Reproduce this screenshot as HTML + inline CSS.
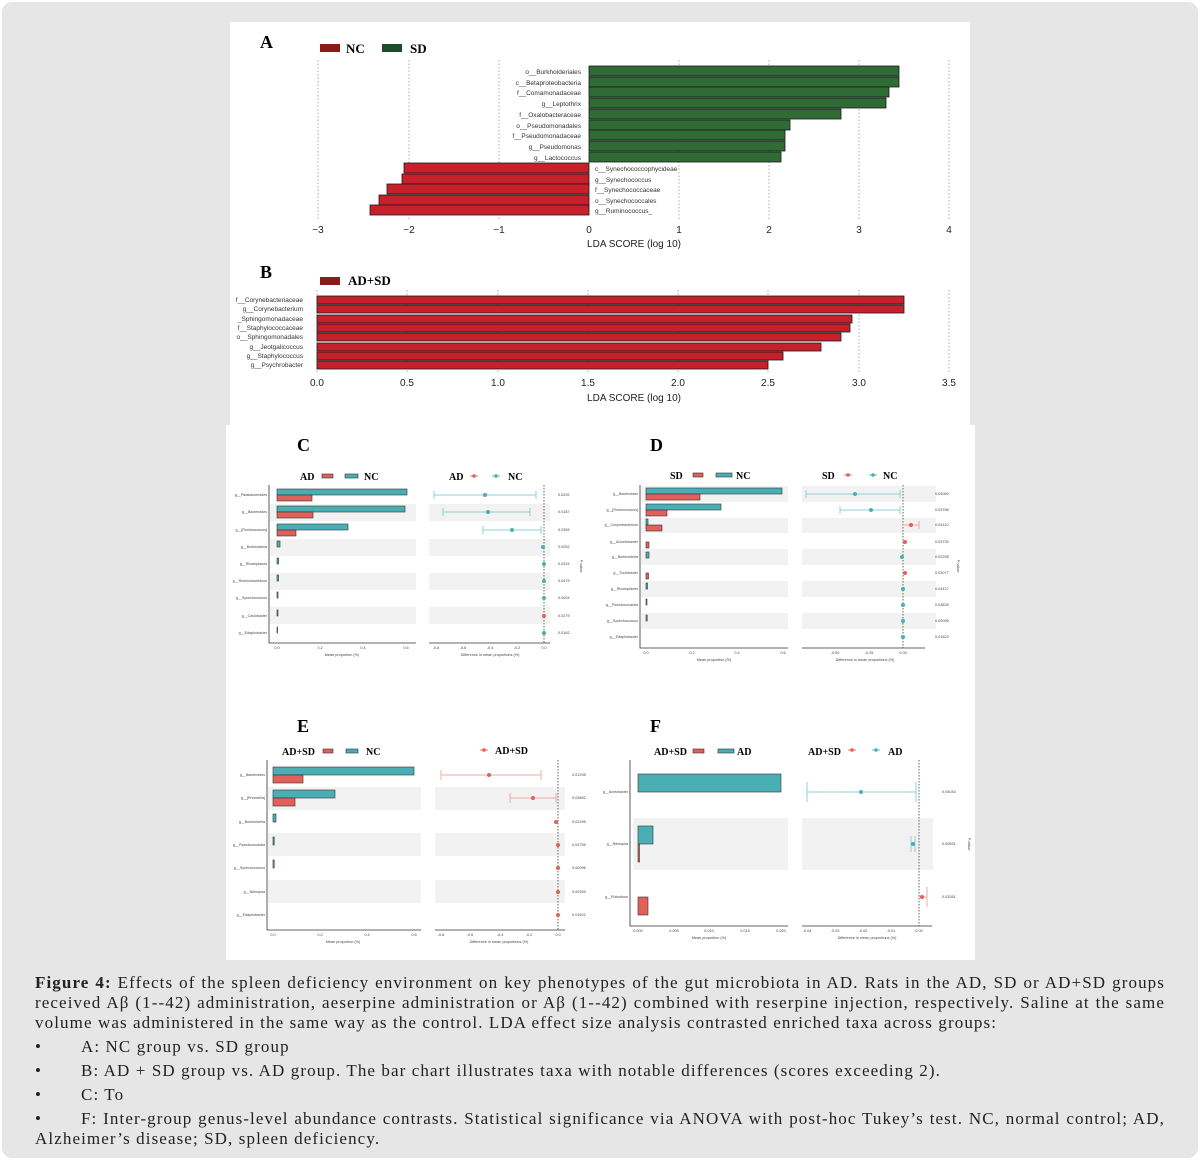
<!DOCTYPE html>
<html><head><meta charset="utf-8"><style>
body{margin:0;width:1200px;height:1160px;background:#fff;overflow:hidden}
.wrap{position:absolute;left:2px;top:2px;width:1196px;height:1156px;background:#e6e6e6;border-radius:10px}
svg{position:absolute;left:0;top:0}
.cap{position:absolute;left:35px;top:973px;width:1130px;font-family:"Liberation Serif",serif;font-size:17px;letter-spacing:1.1px;line-height:20px;color:#222}
.cap div{white-space:nowrap}
.j{text-align:justify;text-align-last:justify}
.li{margin-top:4px}
.li span{display:inline-block;width:46px}
</style></head><body>
<div class="wrap"></div>
<svg width="1200" height="1160" font-family="Liberation Sans, sans-serif">
<rect x="230" y="22" width="740" height="403" fill="#fff"/>
<rect x="226" y="425" width="749" height="535" fill="#fff"/>
<text x="260" y="48" font-family="Liberation Serif,serif" font-weight="bold" font-size="18">A</text>
<rect x="320" y="44" width="20" height="8" fill="#8b1a1a"/><text x="346" y="53" font-family="Liberation Serif,serif" font-weight="bold" font-size="13">NC</text>
<rect x="382" y="44" width="20" height="8" fill="#1e4d2b"/><text x="410" y="53" font-family="Liberation Serif,serif" font-weight="bold" font-size="13">SD</text>
<g stroke="#999" stroke-dasharray="1.5,2" stroke-width="0.8">
<line x1="318" y1="60" x2="318" y2="220"/><line x1="409" y1="60" x2="409" y2="220"/><line x1="499" y1="60" x2="499" y2="220"/><line x1="679" y1="60" x2="679" y2="220"/><line x1="769" y1="60" x2="769" y2="220"/><line x1="859" y1="60" x2="859" y2="220"/><line x1="949" y1="60" x2="949" y2="220"/></g>
<g fill="#2e6b35" stroke="#1a1a1a" stroke-width="0.8">
<rect x="589" y="66" width="310" height="10"/><rect x="589" y="77" width="310" height="10"/><rect x="589" y="87" width="300" height="10"/><rect x="589" y="98" width="297" height="10"/><rect x="589" y="109" width="252" height="10"/><rect x="589" y="120" width="201" height="10"/><rect x="589" y="130" width="196" height="10"/><rect x="589" y="141" width="196" height="10"/><rect x="589" y="152" width="192" height="10"/></g>
<g fill="#c8202a" stroke="#1a1a1a" stroke-width="0.8">
<rect x="404" y="163" width="185" height="10"/><rect x="402" y="174" width="187" height="10"/><rect x="387" y="184" width="202" height="10"/><rect x="379" y="195" width="210" height="10"/><rect x="370" y="205" width="219" height="10"/></g>
<g font-size="6.5" fill="#333" text-anchor="end">
<text x="581" y="74">o__Burkholderiales</text><text x="581" y="85">c__Betaproteobacteria</text><text x="581" y="95">f__Comamonadaceae</text><text x="581" y="106">g__Leptothrix</text><text x="581" y="117">f__Oxalobacteraceae</text><text x="581" y="128">o__Pseudomonadales</text><text x="581" y="138">f__Pseudomonadaceae</text><text x="581" y="149">g__Pseudomonas</text><text x="581" y="160">g__Lactococcus</text></g>
<g font-size="6.5" fill="#333">
<text x="595" y="171">c__Synechococcophycideae</text><text x="595" y="182">g__Synechococcus</text><text x="595" y="192">f__Synechococcaceae</text><text x="595" y="203">o__Synechococcales</text><text x="595" y="213">g__Ruminococcus_</text></g>
<g font-size="10" fill="#222" text-anchor="middle">
<text x="318" y="233">−3</text><text x="409" y="233">−2</text><text x="499" y="233">−1</text><text x="589" y="233">0</text><text x="679" y="233">1</text><text x="769" y="233">2</text><text x="859" y="233">3</text><text x="949" y="233">4</text>
<text x="634" y="247">LDA SCORE (log 10)</text></g>
<text x="260" y="278" font-family="Liberation Serif,serif" font-weight="bold" font-size="18">B</text>
<rect x="320" y="277" width="20" height="8" fill="#8b1a1a"/><text x="348" y="285" font-family="Liberation Serif,serif" font-weight="bold" font-size="13">AD+SD</text>
<g stroke="#999" stroke-dasharray="1.5,2" stroke-width="0.8">
<line x1="317" y1="290" x2="317" y2="372"/><line x1="407" y1="290" x2="407" y2="372"/><line x1="498" y1="290" x2="498" y2="372"/><line x1="588" y1="290" x2="588" y2="372"/><line x1="678" y1="290" x2="678" y2="372"/><line x1="768" y1="290" x2="768" y2="372"/><line x1="859" y1="290" x2="859" y2="372"/><line x1="949" y1="290" x2="949" y2="372"/></g>
<g fill="#c8202a" stroke="#1a1a1a" stroke-width="0.8">
<rect x="317" y="296" width="587" height="8"/><rect x="317" y="305" width="587" height="8"/><rect x="317" y="315" width="535" height="8"/><rect x="317" y="324" width="533" height="8"/><rect x="317" y="333" width="524" height="8"/><rect x="317" y="343" width="504" height="8"/><rect x="317" y="352" width="466" height="8"/><rect x="317" y="361" width="451" height="8"/></g>
<g font-size="6.5" fill="#333" text-anchor="end">
<text x="303" y="302">f__Corynebacteriaceae</text><text x="303" y="311">g__Corynebacterium</text><text x="303" y="321">_Sphingomonadaceae</text><text x="303" y="330">f__Staphylococcaceae</text><text x="303" y="339">o__Sphingomonadales</text><text x="303" y="349">g__Jeotgalicoccus</text><text x="303" y="358">g__Staphylococcus</text><text x="303" y="367">g__Psychrobacter</text></g>
<g font-size="10" fill="#222" text-anchor="middle">
<text x="317" y="386">0.0</text><text x="407" y="386">0.5</text><text x="498" y="386">1.0</text><text x="588" y="386">1.5</text><text x="678" y="386">2.0</text><text x="768" y="386">2.5</text><text x="859" y="386">3.0</text><text x="949" y="386">3.5</text>
<text x="634" y="401">LDA SCORE (log 10)</text></g>

<g font-family="Liberation Serif,serif" font-weight="bold">
<text x="297" y="451" font-size="18">C</text><text x="650" y="451" font-size="18">D</text><text x="297" y="732" font-size="18">E</text><text x="650" y="732" font-size="18">F</text>
<text x="300" y="480" font-size="10">AD</text><text x="364" y="480" font-size="10">NC</text><text x="449" y="480" font-size="10">AD</text><text x="508" y="480" font-size="10">NC</text>
<text x="670" y="479" font-size="10">SD</text><text x="736" y="479" font-size="10">NC</text><text x="822" y="479" font-size="10">SD</text><text x="883" y="479" font-size="10">NC</text>
<text x="282" y="755" font-size="10">AD+SD</text><text x="366" y="755" font-size="10">NC</text><text x="495" y="754" font-size="10">AD+SD</text>
<text x="654" y="755" font-size="10">AD+SD</text><text x="737" y="755" font-size="10">AD</text><text x="808" y="755" font-size="10">AD+SD</text><text x="888" y="755" font-size="10">AD</text></g>
<g stroke="#333" stroke-width="0.6">
<rect x="322" y="474" width="11" height="4" fill="#e0605a"/><rect x="345" y="474" width="13" height="4" fill="#4aafb5"/>
<rect x="693" y="473" width="10" height="4" fill="#e0605a"/><rect x="716" y="473" width="16" height="4" fill="#4aafb5"/>
<rect x="323" y="749" width="10" height="4" fill="#e0605a"/><rect x="346" y="749" width="12" height="4" fill="#4aafb5"/>
<rect x="693" y="749" width="11" height="4" fill="#e0605a"/><rect x="718" y="749" width="16" height="4" fill="#4aafb5"/></g>
<g stroke-width="0.8">
<line x1="470" y1="476" x2="478" y2="476" stroke="#e0605a"/><circle cx="474" cy="476" r="1.8" fill="#e0605a"/>
<line x1="492" y1="476" x2="500" y2="476" stroke="#4aafb5"/><circle cx="496" cy="476" r="1.8" fill="#4aafb5"/>
<line x1="844" y1="475" x2="852" y2="475" stroke="#e0605a"/><circle cx="848" cy="475" r="1.8" fill="#e0605a"/>
<line x1="869" y1="475" x2="877" y2="475" stroke="#4aafb5"/><circle cx="873" cy="475" r="1.8" fill="#4aafb5"/>
<line x1="480" y1="750" x2="488" y2="750" stroke="#e0605a"/><circle cx="484" cy="750" r="1.8" fill="#e0605a"/>
<line x1="848" y1="750" x2="856" y2="750" stroke="#e0605a"/><circle cx="852" cy="750" r="1.8" fill="#e0605a"/>
<line x1="872" y1="750" x2="880" y2="750" stroke="#4aafb5"/><circle cx="876" cy="750" r="1.8" fill="#4aafb5"/></g>

<g fill="#f2f2f2">
<rect x="270" y="504" width="146" height="17"/><rect x="270" y="539" width="146" height="17"/><rect x="270" y="573" width="146" height="17"/><rect x="270" y="607" width="146" height="17"/>
<rect x="429" y="504" width="121" height="17"/><rect x="429" y="539" width="121" height="17"/><rect x="429" y="573" width="121" height="17"/><rect x="429" y="607" width="121" height="17"/>
<rect x="641" y="486" width="147" height="16"/><rect x="641" y="518" width="147" height="15"/><rect x="641" y="549" width="147" height="16"/><rect x="641" y="581" width="147" height="16"/><rect x="641" y="613" width="147" height="16"/>
<rect x="802" y="486" width="134" height="16"/><rect x="802" y="518" width="134" height="15"/><rect x="802" y="549" width="134" height="16"/><rect x="802" y="581" width="134" height="16"/><rect x="802" y="613" width="134" height="16"/>
<rect x="268" y="787" width="153" height="23"/><rect x="268" y="833" width="153" height="23"/><rect x="268" y="880" width="153" height="23"/>
<rect x="435" y="787" width="130" height="23"/><rect x="435" y="833" width="130" height="23"/><rect x="435" y="880" width="130" height="23"/>
<rect x="633" y="818" width="155" height="52"/><rect x="802" y="818" width="131" height="52"/></g>

<g stroke="#333" stroke-width="0.8" fill="none">
<path d="M269 485V643H416"/><path d="M429 643H550"/>
<path d="M640 485V648H788"/><path d="M802 648H925"/>
<path d="M267 760V930H421"/><path d="M435 930H565"/>
<path d="M630 760V926H788"/><path d="M802 926H932"/></g>
<g stroke="#555" stroke-width="0.9" stroke-dasharray="1.5,1.5">
<line x1="544" y1="485" x2="544" y2="643"/><line x1="903" y1="485" x2="903" y2="648"/><line x1="558" y1="760" x2="558" y2="930"/><line x1="919" y1="760" x2="919" y2="926"/></g>

<g stroke="#333" stroke-width="0.6">
<g fill="#4aafb5"><rect x="277" y="489" width="130" height="6"/><rect x="277" y="506" width="128" height="6"/><rect x="277" y="524" width="71" height="6"/><rect x="277" y="541" width="3" height="6"/><rect x="277" y="558" width="1.5" height="6"/><rect x="277" y="575" width="1.5" height="6"/><rect x="277" y="592" width="1" height="6"/><rect x="277" y="610" width="1" height="6"/><rect x="277" y="627" width="0.5" height="6"/></g>
<g fill="#e0605a"><rect x="277" y="495" width="35" height="6"/><rect x="277" y="512" width="36" height="6"/><rect x="277" y="530" width="19" height="6"/></g>
<g fill="#4aafb5"><rect x="646" y="488" width="136" height="6"/><rect x="646" y="504" width="75" height="6"/><rect x="646" y="519" width="2" height="6"/><rect x="646" y="552" width="3" height="6"/><rect x="646" y="583" width="1.5" height="6"/><rect x="646" y="599" width="1" height="6"/><rect x="646" y="615" width="1.2" height="6"/></g>
<g fill="#e0605a"><rect x="646" y="494" width="54" height="6"/><rect x="646" y="510" width="21" height="6"/><rect x="646" y="525" width="16" height="6"/><rect x="646" y="542" width="3" height="6"/><rect x="646" y="573" width="2.5" height="6"/></g>
<g fill="#4aafb5"><rect x="273" y="767" width="141" height="8"/><rect x="273" y="790" width="62" height="8"/><rect x="273" y="814" width="3" height="8"/><rect x="273" y="837" width="1.2" height="8"/><rect x="273" y="860" width="1.2" height="8"/></g>
<g fill="#e0605a"><rect x="273" y="775" width="30" height="8"/><rect x="273" y="798" width="22" height="8"/></g>
<g fill="#4aafb5"><rect x="638" y="774" width="143" height="18"/><rect x="638" y="826" width="15" height="18"/></g>
<g fill="#e0605a"><rect x="638" y="844" width="1.5" height="18"/><rect x="638" y="897" width="10" height="18"/></g></g>

<g stroke="#8fd0d4" stroke-width="1">
<path d="M434 495H536M434 491V499M536 491V499"/><path d="M443 512H530M443 508V516M530 508V516"/><path d="M483 530H541M483 526V534M541 526V534"/>
<path d="M806 494H900M806 490V498M900 490V498"/><path d="M840 510H900M840 506V514M900 506V514"/>
<path d="M807 792H916M807 782V802M916 782V802"/><path d="M911 836V852M915 836V852"/></g>
<g stroke="#f0a8a4" stroke-width="1">
<path d="M441 775H541M441 770V780M541 770V780"/><path d="M510 798H556M510 793V803M556 793V803"/>
<path d="M903 525H919M919 521V529"/><path d="M919 897H927M927 887V907"/></g>
<g fill="#4aafb5">
<circle cx="485" cy="495" r="2"/><circle cx="488" cy="512" r="2"/><circle cx="512" cy="530" r="2"/><circle cx="543" cy="547" r="2"/><circle cx="544" cy="564" r="2"/><circle cx="544" cy="581" r="2"/><circle cx="544" cy="598" r="2"/><circle cx="544" cy="633" r="2"/>
<circle cx="855" cy="494" r="2"/><circle cx="871" cy="510" r="2"/><circle cx="902" cy="557" r="2"/><circle cx="903" cy="589" r="2"/><circle cx="903" cy="605" r="2"/><circle cx="903" cy="621" r="2"/><circle cx="903" cy="637" r="2"/>
<circle cx="861" cy="792" r="2"/><circle cx="913" cy="844" r="2"/></g>
<g fill="#e0605a">
<circle cx="544" cy="616" r="2"/><circle cx="911" cy="525" r="2"/><circle cx="905" cy="542" r="2"/><circle cx="905" cy="573" r="2"/>
<circle cx="489" cy="775" r="2"/><circle cx="533" cy="798" r="2"/><circle cx="556" cy="822" r="2"/><circle cx="558" cy="845" r="2"/><circle cx="558" cy="868" r="2"/><circle cx="558" cy="892" r="2"/><circle cx="558" cy="915" r="2"/>
<circle cx="922" cy="897" r="2"/></g>

<g font-size="3.6" fill="#444" text-anchor="end">
<text x="267" y="496">g__Parabacteroides</text><text x="267" y="513">g__Bacteroides</text><text x="267" y="531">g__[Ruminococcus]</text><text x="267" y="548">g__Burkholderia</text><text x="267" y="565">g__Rhodoplanes</text><text x="267" y="582">g__Ruminiclostridium</text><text x="267" y="599">g__Synechococcus</text><text x="267" y="617">g__Caulobacter</text><text x="267" y="634">g__Edaphobacter</text>
<text x="638" y="495">g__Bacteroides</text><text x="638" y="511">g__[Ruminococcus]</text><text x="638" y="526">g__Corynebacterium</text><text x="638" y="543">g__Acinetobacter</text><text x="638" y="558">g__Burkholderia</text><text x="638" y="574">g__Turicibacter</text><text x="638" y="590">g__Rhodoplanes</text><text x="638" y="606">g__Pseudonocardia</text><text x="638" y="622">g__Synechococcus</text><text x="638" y="638">g__Edaphobacter</text>
<text x="265" y="776">g__Bacteroides</text><text x="265" y="799">g__[Prevotella]</text><text x="265" y="823">g__Burkholderia</text><text x="265" y="846">g__Pseudonocardia</text><text x="265" y="869">g__Synechococcus</text><text x="265" y="893">g__Nitrospira</text><text x="265" y="916">g__Edaphobacter</text>
<text x="628" y="793">g__Acetobacter</text><text x="628" y="845">g__Nitrospira</text><text x="628" y="898">g__Rhizobium</text></g>
<g font-size="3.8" fill="#444">
<text x="558" y="496">0.0292</text><text x="558" y="513">0.0187</text><text x="558" y="531">0.0359</text><text x="558" y="548">0.0252</text><text x="558" y="565">0.0324</text><text x="558" y="582">0.0479</text><text x="558" y="599">0.0004</text><text x="558" y="617">0.0279</text><text x="558" y="634">0.0162</text>
<text x="935" y="495">0.04050</text><text x="935" y="511">0.03786</text><text x="935" y="526">0.04110</text><text x="935" y="543">0.03730</text><text x="935" y="558">0.02295</text><text x="935" y="574">0.03077</text><text x="935" y="590">0.04427</text><text x="935" y="606">0.03839</text><text x="935" y="622">0.00096</text><text x="935" y="638">0.01622</text>
<text x="572" y="776">0.01298</text><text x="572" y="799">0.03892</text><text x="572" y="823">0.02295</text><text x="572" y="846">0.04755</text><text x="572" y="869">0.00096</text><text x="572" y="893">0.00359</text><text x="572" y="916">0.01622</text>
<text x="942" y="793">0.04044</text><text x="942" y="845">0.00591</text><text x="942" y="898">0.03261</text></g>
<g font-size="3.8" fill="#444" text-anchor="middle">
<text x="580" y="566" transform="rotate(90 580 566)">P-value</text><text x="957" y="566" transform="rotate(90 957 566)">P-value</text><text x="968" y="844" transform="rotate(90 968 844)">P-value</text>
<text x="277" y="649">0.0</text><text x="320" y="649">0.2</text><text x="363" y="649">0.4</text><text x="406" y="649">0.6</text><text x="342" y="656">Mean proportion (%)</text>
<text x="436" y="649">-0.8</text><text x="463" y="649">-0.6</text><text x="490" y="649">-0.4</text><text x="517" y="649">-0.2</text><text x="544" y="649">0.0</text><text x="490" y="656">Difference in mean proportions (%)</text>
<text x="646" y="654">0.0</text><text x="692" y="654">0.2</text><text x="737" y="654">0.4</text><text x="783" y="654">0.6</text><text x="714" y="661">Mean proportion (%)</text>
<text x="835" y="654">-0.50</text><text x="869" y="654">-0.25</text><text x="903" y="654">0.00</text><text x="865" y="661">Difference in mean proportions (%)</text>
<text x="273" y="936">0.0</text><text x="320" y="936">0.2</text><text x="367" y="936">0.4</text><text x="414" y="936">0.6</text><text x="343" y="943">Mean proportion (%)</text>
<text x="441" y="936">-0.8</text><text x="470" y="936">-0.6</text><text x="500" y="936">-0.4</text><text x="529" y="936">-0.2</text><text x="558" y="936">0.0</text><text x="499" y="943">Difference in mean proportions (%)</text>
<text x="638" y="932">0.000</text><text x="674" y="932">0.005</text><text x="709" y="932">0.010</text><text x="745" y="932">0.015</text><text x="781" y="932">0.020</text><text x="709" y="939">Mean proportion (%)</text>
<text x="807" y="932">-0.04</text><text x="835" y="932">-0.03</text><text x="863" y="932">-0.02</text><text x="891" y="932">-0.01</text><text x="919" y="932">0.00</text><text x="867" y="939">Difference in mean proportions (%)</text></g>
</svg>
<div class="cap">
<div class="j"><b>Figure 4:</b> Effects of the spleen deficiency environment on key phenotypes of the gut microbiota in AD. Rats in the AD, SD or AD+SD groups</div>
<div class="j">received Aβ (1--42) administration, aeserpine administration or Aβ (1--42) combined with reserpine injection, respectively. Saline at the same</div>
<div>volume was administered in the same way as the control. LDA effect size analysis contrasted enriched taxa across groups:</div>
<div class="li"><span>•</span>A: NC group vs. SD group</div>
<div class="li"><span>•</span>B: AD + SD group vs. AD group. The bar chart illustrates taxa with notable differences (scores exceeding 2).</div>
<div class="li"><span>•</span>C: To</div>
<div class="li j"><span>•</span>F: Inter-group genus-level abundance contrasts. Statistical significance via ANOVA with post-hoc Tukey’s test. NC, normal control; AD,</div>
<div>Alzheimer’s disease; SD, spleen deficiency.</div>
</div>
</body></html>
